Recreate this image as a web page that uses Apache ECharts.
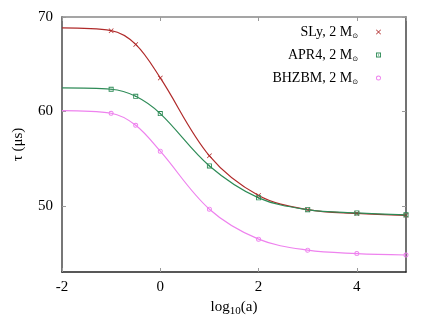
<!DOCTYPE html>
<html>
<head>
<meta charset="utf-8">
<script src="https://cdn.jsdelivr.net/npm/echarts@6/dist/echarts.min.js"></script>
<style>
  html, body { margin: 0; padding: 0; background: #fff; }
  #main { width: 432px; height: 333px; }
</style>
</head>
<body>
<div id="main"></div>
<script>
  // log10(a) positions, first one is just where the curve starts (no marker)
  let xs = [-2, -1, -0.5, 0, 1, 2, 3, 4, 5]
  let sly = [68.84, 68.55, 67.1, 63.55, 55.3, 51.1, 49.6, 49.2, 49.0]
  let apr4 = [62.49, 62.35, 61.6, 59.77, 54.23, 50.85, 49.6, 49.25, 49.05]
  let bhzbm = [60.09, 59.81, 58.54, 55.79, 49.65, 46.48, 45.31, 44.95, 44.8]
  let yTicks = [50, 60, 70]
  let names = ['SLy', 'APR4', 'BHZBM']
  let colors = ['#b02a2a', '#2e8b57', '#ee82ee']

  let crossPath = 'path://M0,1L1,0L5,4L9,0L10,1L6,5L10,9L9,10L5,6L1,10L0,9L4,5Z'
  let boxDotPath = 'path://M0,0L10,0L10,10L0,10Z M1.8,1.8L1.8,8.2L8.2,8.2L8.2,1.8Z M3.8,3.8L6.2,3.8L6.2,6.2L3.8,6.2Z'
  let ringPath = 'path://M5,0A5,5,0,1,1,4.99,0Z M5,1.8A3.2,3.2,0,1,0,5.01,1.8Z'
  let symbols = [crossPath, boxDotPath, ringPath]
  let font = 'Liberation Serif'

  function pts (ys) {
    return xs.map(function (x, i) {
      let item = { value: [x, ys[i]] }
      if (i === 0) item.symbol = 'none'
      return item
    })
  }

  function mkSeries (idx, ys) {
    return {
      name: names[idx],
      type: 'line',
      smooth: 0.35,
      symbol: symbols[idx],
      symbolSize: 5,
      lineStyle: { color: colors[idx], width: 1.2 },
      itemStyle: { color: colors[idx], borderWidth: 0 },
      data: pts(ys)
    }
  }

  let chart = echarts.init(document.getElementById('main'))
  chart.setOption({
    animation: false,
    color: colors,
    grid: { left: 62, right: 26, top: 17, bottom: 61 },
    legend: {
      orient: 'vertical',
      right: 51,
      top: 25,
      padding: 0,
      align: 'right',
      itemGap: 8,
      itemWidth: 5,
      itemHeight: 5,
      data: [
        { name: 'SLy', icon: crossPath },
        { name: 'APR4', icon: boxDotPath },
        { name: 'BHZBM', icon: ringPath }
      ],
      formatter: function (n) {
        return n + ', 2 M{sub|⊙}'
      },
      textStyle: {
        fontFamily: font,
        fontSize: 14,
        color: '#000',
        padding: [0, 13, 0, 0],
        rich: {
          sub: { fontFamily: 'DejaVu Sans', fontSize: 7, verticalAlign: 'bottom', padding: [9, 0, 0, 0], color: '#000' }
        }
      }
    },
    xAxis: [
      {
        type: 'value',
        position: 'bottom',
        min: -2,
        max: 5,
        interval: 2,
        name: 'log{sub|10}(a)',
        nameLocation: 'middle',
        nameGap: 25,
        nameTextStyle: {
          fontFamily: font,
          fontSize: 15,
          color: '#000',
          rich: { sub: { fontFamily: font, fontSize: 11, padding: [7, 0, 0, 0], color: '#000' } }
        },
        axisLine: { onZero: false, lineStyle: { color: '#222', width: 1.5 } },
        axisTick: { inside: true, length: 4, lineStyle: { color: '#999' } },
        axisLabel: { showMaxLabel: false, fontFamily: font, fontSize: 15, color: '#000', margin: 8 },
        splitLine: { show: false }
      },
      {
        type: 'value',
        position: 'top',
        min: -2,
        max: 5,
        interval: 2,
        axisLine: { onZero: false, lineStyle: { color: '#888', width: 1.5 } },
        axisTick: { inside: true, length: 4, lineStyle: { color: '#999' } },
        axisLabel: { show: false },
        splitLine: { show: false }
      }
    ],
    yAxis: [
      {
        type: 'value',
        position: 'left',
        min: 43,
        max: 70,
        name: 'τ (μs)',
        nameLocation: 'middle',
        nameGap: 36,
        nameTextStyle: { fontFamily: font, fontSize: 15, color: '#000' },
        axisLine: { onZero: false, lineStyle: { color: '#777', width: 2 } },
        axisTick: { inside: true, length: 4, customValues: yTicks, lineStyle: { color: '#999' } },
        axisLabel: { customValues: yTicks, fontFamily: font, fontSize: 15, color: '#000', margin: 9 },
        splitLine: { show: false }
      },
      {
        type: 'value',
        position: 'right',
        min: 43,
        max: 70,
        axisLine: { onZero: false, lineStyle: { color: '#444', width: 1.5 } },
        axisTick: { inside: true, length: 4, customValues: yTicks, lineStyle: { color: '#999' } },
        axisLabel: { show: false },
        splitLine: { show: false }
      }
    ],
    series: [
      mkSeries(0, sly),
      mkSeries(1, apr4),
      mkSeries(2, bhzbm)
    ]
  })
</script>
</body>
</html>
